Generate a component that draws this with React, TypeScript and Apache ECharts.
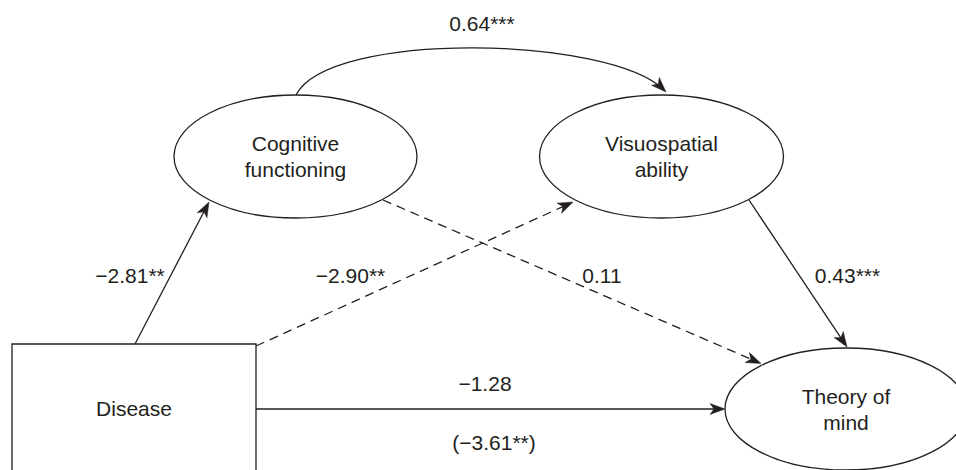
import React, { useEffect, useRef } from "react";
import * as echarts from "echarts";

// ---- data ----
const nodeNames = ["Disease", "Cognitive\nfunctioning", "Visuospatial\nability", "Theory of\nmind"];
const edgeFrom = [0, 0, 1, 2, 0, 1];
const edgeTo = [1, 2, 3, 3, 3, 2];
const edgeCoefficients = ["−2.81**", "−2.90**", "0.11", "0.43***", "−1.28", "0.64***"];
const edgeDashed = [false, true, true, false, false, false];
const totalEffectLabel = "(−3.61**)";

// ---- layout (positions & styles only) ----
const INK = "#231f20";
const FONT_FAMILY = "'Liberation Sans', Arial, Helvetica, sans-serif";
const FONT_SIZE = 21;
const LINE_GAP = 26;

type Shape = { kind: "rect" | "ellipse"; cx: number; cy: number; w: number; h: number; labelY: number };
const nodeLayout: Shape[] = [
  { kind: "rect", cx: 134, cy: 414, w: 244, h: 140, labelY: 408 },
  { kind: "ellipse", cx: 295.5, cy: 156.5, w: 243, h: 123, labelY: 156 },
  { kind: "ellipse", cx: 661.5, cy: 156.5, w: 244, h: 123, labelY: 156 },
  { kind: "ellipse", cx: 846, cy: 409, w: 242, h: 122, labelY: 409.5 },
];

type Geo = { p0: number[]; p1: number[]; c1?: number[]; c2?: number[] };
const edgeLayout: Geo[] = [
  { p0: [135, 344], p1: [209, 202] },
  { p0: [256, 346], p1: [573, 202] },
  { p0: [383, 200], p1: [761, 363.5] },
  { p0: [749, 200], p1: [847, 347] },
  { p0: [256, 409], p1: [725, 409] },
  { p0: [296, 95], p1: [666, 92], c1: [330, 30], c2: [610, 36] },
];
const edgeLabelPos = [
  [130, 275],
  [350.5, 275],
  [602, 275],
  [847.5, 275],
  [485, 383],
  [482, 23],
];
const totalEffectPos = [494, 442];

const ARROW_LEN = 15;
const ARROW_HALF = 5.5;
const ARROW_NOTCH = 4;

function arrowHead(tip: number[], from: number[]) {
  const dx = tip[0] - from[0];
  const dy = tip[1] - from[1];
  const d = Math.hypot(dx, dy) || 1;
  const ux = dx / d, uy = dy / d;
  const nx = -uy, ny = ux;
  const bx = tip[0] - ARROW_LEN * ux, by = tip[1] - ARROW_LEN * uy;
  const mx = tip[0] - (ARROW_LEN - ARROW_NOTCH) * ux, my = tip[1] - (ARROW_LEN - ARROW_NOTCH) * uy;
  return {
    poly: [tip, [bx + ARROW_HALF * nx, by + ARROW_HALF * ny], [mx, my], [bx - ARROW_HALF * nx, by - ARROW_HALF * ny]],
    lineEnd: [mx, my],
  };
}

function textEl(text: string, x: number, y: number) {
  return {
    type: "text",
    silent: true,
    z: 10,
    style: {
      text,
      x,
      y,
      fill: INK,
      fontSize: FONT_SIZE,
      fontFamily: FONT_FAMILY,
      align: "center",
      verticalAlign: "middle",
      textAlign: "center",
      textVerticalAlign: "middle",
    },
  };
}

function buildGraphics() {
  const els: any[] = [];
  // nodes
  nodeNames.forEach((name, i) => {
    const L = nodeLayout[i];
    if (L.kind === "rect") {
      els.push({
        type: "rect",
        z: 1,
        shape: { x: L.cx - L.w / 2, y: L.cy - L.h / 2, width: L.w, height: L.h },
        style: { fill: "#fff", stroke: INK, lineWidth: 1.3 },
      });
    } else {
      els.push({
        type: "ellipse",
        z: 1,
        shape: { cx: L.cx, cy: L.cy, rx: L.w / 2, ry: L.h / 2 },
        style: { fill: "#fff", stroke: INK, lineWidth: 1.3 },
      });
    }
    const lines = name.split("\n");
    lines.forEach((ln, k) => {
      const y = L.labelY + (k - (lines.length - 1) / 2) * LINE_GAP;
      els.push(textEl(ln, L.cx, y));
    });
  });
  // edges
  edgeFrom.forEach((_, i) => {
    const g = edgeLayout[i];
    const dash = edgeDashed[i] ? [9, 6] : null;
    if (g.c1 && g.c2) {
      const ah = arrowHead(g.p1, g.c2);
      els.push({
        type: "bezierCurve",
        z: 2,
        shape: { x1: g.p0[0], y1: g.p0[1], x2: g.p1[0] - 2, y2: g.p1[1] - 2, cpx1: g.c1[0], cpy1: g.c1[1], cpx2: g.c2[0], cpy2: g.c2[1] },
        style: { stroke: INK, lineWidth: 1.3, fill: null, lineDash: dash },
      });
      els.push({ type: "polygon", z: 3, shape: { points: ah.poly }, style: { fill: INK, stroke: INK, lineWidth: 0.5 } });
    } else {
      const ah = arrowHead(g.p1, g.p0);
      els.push({
        type: "line",
        z: 2,
        shape: { x1: g.p0[0], y1: g.p0[1], x2: ah.lineEnd[0], y2: ah.lineEnd[1] },
        style: { stroke: INK, lineWidth: 1.3, lineDash: dash },
      });
      els.push({ type: "polygon", z: 3, shape: { points: ah.poly }, style: { fill: INK, stroke: INK, lineWidth: 0.5 } });
    }
    const lp = edgeLabelPos[i];
    els.push(textEl(edgeCoefficients[i], lp[0], lp[1]));
  });
  els.push(textEl(totalEffectLabel, totalEffectPos[0], totalEffectPos[1]));
  return els;
}

export default function App() {
  const ref = useRef<HTMLDivElement>(null);
  useEffect(() => {
    document.body.style.margin = "0";
    if (!ref.current) return;
    const chart = echarts.init(ref.current, null, { renderer: "svg" });
    chart.setOption({
      animation: false,
      backgroundColor: "#ffffff",
      graphic: { elements: buildGraphics() },
    });
    return () => chart.dispose();
  }, []);
  return <div ref={ref} style={{ width: 956, height: 470 }} />;
}
